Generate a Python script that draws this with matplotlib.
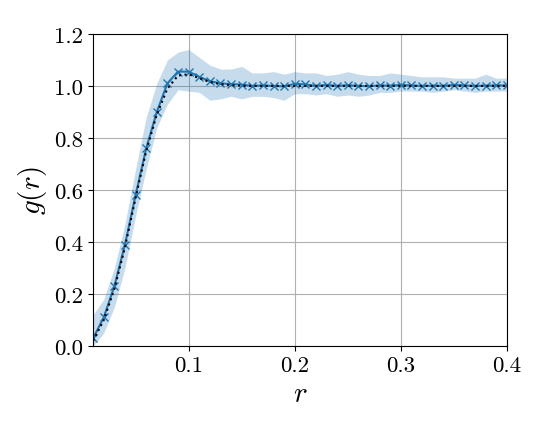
import matplotlib
matplotlib.use("Agg")
import matplotlib.pyplot as plt

plt.rcParams['font.family'] = 'serif'
plt.rcParams['font.serif'] = ['cmr10']
plt.rcParams['mathtext.fontset'] = 'cm'
plt.rcParams['axes.formatter.use_mathtext'] = True

r = [0.01, 0.02, 0.03, 0.04, 0.05, 0.06, 0.07, 0.08, 0.09, 0.10,
     0.11, 0.12, 0.13, 0.14, 0.15, 0.16, 0.17, 0.18, 0.19, 0.20,
     0.21, 0.22, 0.23, 0.24, 0.25, 0.26, 0.27, 0.28, 0.29, 0.30,
     0.31, 0.32, 0.33, 0.34, 0.35, 0.36, 0.37, 0.38, 0.39, 0.40]

g_mean = [0.03, 0.11, 0.23, 0.39, 0.58, 0.76, 0.90, 1.01, 1.055, 1.055,
          1.035, 1.018, 1.01, 1.007, 1.005, 1.0, 1.002, 1.0, 0.998, 1.008,
          1.006, 1.0, 1.004, 1.0, 1.003, 1.0, 0.999, 1.002, 1.001, 1.004,
          1.002, 1.0, 1.001, 1.0, 1.004, 1.002, 1.0, 1.001, 1.002, 1.002]

g_upper = [0.12, 0.18, 0.30, 0.47, 0.68, 0.88, 1.01, 1.10, 1.13, 1.14,
           1.11, 1.08, 1.065, 1.065, 1.075, 1.05, 1.05, 1.055, 1.045, 1.055,
           1.05, 1.05, 1.04, 1.045, 1.055, 1.045, 1.04, 1.04, 1.05, 1.045,
           1.04, 1.035, 1.035, 1.035, 1.03, 1.03, 1.03, 1.045, 1.03, 1.03]

g_lower = [0.0, 0.05, 0.15, 0.30, 0.50, 0.68, 0.84, 0.93, 0.985, 0.98,
           0.975, 0.945, 0.95, 0.96, 0.95, 0.96, 0.96, 0.955, 0.945, 0.97,
           0.97, 0.965, 0.97, 0.96, 0.965, 0.96, 0.965, 0.975, 0.975, 0.98,
           0.98, 0.98, 0.975, 0.98, 0.985, 0.98, 0.975, 0.98, 0.98, 0.98]

g_theory = [0.02, 0.10, 0.22, 0.38, 0.57, 0.75, 0.89, 0.99, 1.04, 1.045,
            1.03, 1.015, 1.007, 1.003, 1.001, 1.0, 1.0, 1.0, 1.0, 1.0,
            1.0, 1.0, 1.0, 1.0, 1.0, 1.0, 1.0, 1.0, 1.0, 1.0,
            1.0, 1.0, 1.0, 1.0, 1.0, 1.0, 1.0, 1.0, 1.0, 1.0]

fig = plt.figure(figsize=(5.48, 4.31), dpi=100)
ax = fig.add_axes([0.170, 0.195, 0.755, 0.724])

ax.fill_between(r, g_lower, g_upper, color='#1f77b4', alpha=0.25, linewidth=0)
ax.plot(r, g_mean, color='#1f77b4', marker='x', markersize=6, linewidth=1.5)
ax.plot(r, g_theory, color='black', linestyle=':', linewidth=1.5)

ax.set_xlim(0.01, 0.4)
ax.set_ylim(0.0, 1.2)
ax.set_xticks([0.1, 0.2, 0.3, 0.4])
ax.set_xticklabels(['0.1', '0.2', '0.3', '0.4'])
ax.set_yticks([0.0, 0.2, 0.4, 0.6, 0.8, 1.0, 1.2])
ax.set_yticklabels(['0.0', '0.2', '0.4', '0.6', '0.8', '1.0', '1.2'])
ax.tick_params(labelsize=16.5)
ax.grid(True, color='#b0b0b0', linewidth=0.8)
ax.set_axisbelow(True)
ax.set_xlabel(r'$r$', fontsize=21)
ax.set_ylabel(r'$g(r)$', fontsize=21)

fig.savefig('out.png', dpi=100)
